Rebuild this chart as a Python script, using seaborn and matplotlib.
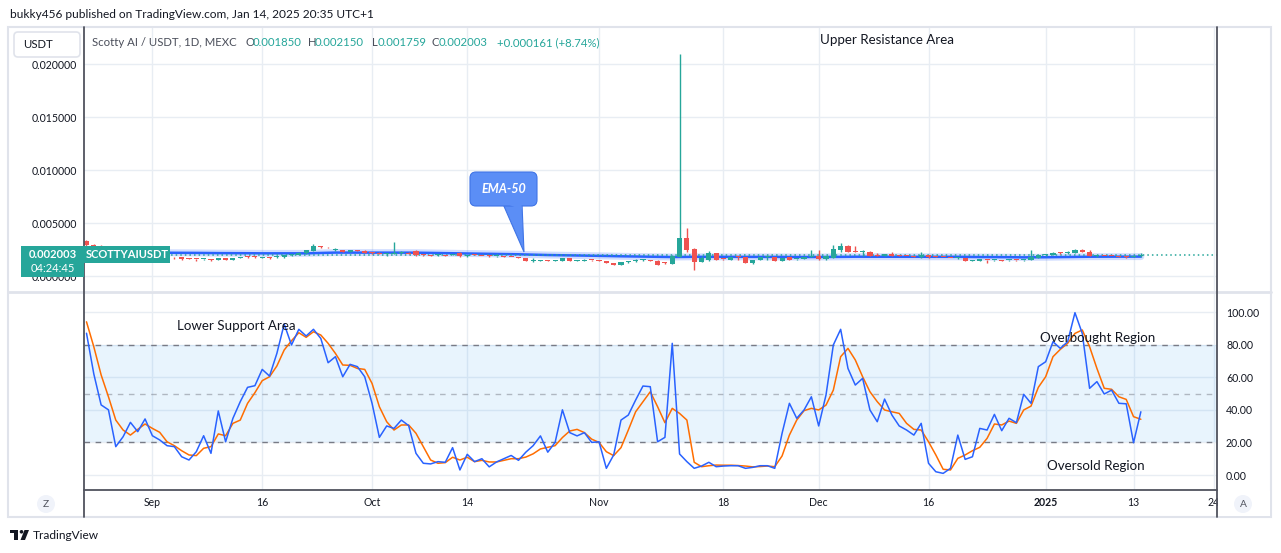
import numpy as np
import pandas as pd
import matplotlib
matplotlib.use("Agg")
import matplotlib.pyplot as plt
import seaborn as sns
from matplotlib.patches import FancyBboxPatch, Polygon, Rectangle, Circle
from matplotlib.transforms import Affine2D
from matplotlib.lines import Line2D

# ---------------- data ----------------
open_ = [0.0033,0.0029,0.00283,0.0026,0.0024,0.0021,0.0020,0.0019,0.0019,0.0018,
0.0017,0.00175,0.00177,0.00179,0.00164,0.00162,0.00159,0.00163,0.0015,0.0017,
0.0015,0.0017,0.00182,0.00181,0.00174,0.00171,0.00179,0.00176,0.00199,0.0020,
0.00214,0.0024,0.00276,0.00271,0.00249,0.00242,0.00226,0.00241,0.0024,0.00221,
0.0022,0.00209,0.0021,0.00219,0.0022,0.00233,0.00196,0.00191,0.00199,0.00191,
0.00199,0.00217,0.00186,0.00201,0.00191,0.00194,0.00186,0.00186,0.00181,0.00176,
0.0017,0.00139,0.0014,0.0015,0.00144,0.00142,0.0017,0.00144,0.00144,0.00151,
0.00146,0.0014,0.0012,0.00108,0.00129,0.00139,0.00149,0.00146,0.00145,0.00121,
0.00116,0.00182,0.0036,0.00255,0.00135,0.0015,0.00214,0.00161,0.0015,0.00181,
0.00176,0.00126,0.0015,0.00179,0.0018,0.0014,0.0018,0.00159,0.0016,0.00179,
0.00185,0.00156,0.0017,0.00245,0.00286,0.00231,0.00229,0.0023,0.00196,0.0019,
0.0021,0.00193,0.00191,0.00188,0.00176,0.0020,0.00181,0.00181,0.00171,0.00169,
0.0017,0.00144,0.00145,0.00151,0.00147,0.0015,0.00149,0.00151,0.00149,0.0015,
0.0017,0.00199,0.0020,0.00221,0.00219,0.0022,0.0025,0.0023,0.00189,0.00191,
0.00191,0.0019,0.00181,0.00179,0.00185]

close_ = [0.0029,0.00283,0.0026,0.0024,0.0021,0.0020,0.0019,0.0019,0.0018,0.0017,
0.00175,0.0017,0.00175,0.0016,0.00162,0.0016,0.00162,0.0015,0.0017,0.0015,
0.0017,0.0018,0.0018,0.00179,0.00176,0.00169,0.00181,0.0020,0.00201,0.0022,
0.00242,0.0028,0.00274,0.00269,0.00251,0.00226,0.00242,0.00239,0.0022,0.00219,
0.00212,0.00211,0.0022,0.00221,0.0021,0.00195,0.00194,0.00189,0.00201,0.00189,
0.00201,0.00186,0.0020,0.00199,0.00189,0.00186,0.00188,0.00184,0.00179,0.00174,
0.00139,0.00141,0.0015,0.00142,0.00146,0.0017,0.00142,0.00146,0.00146,0.00149,
0.00144,0.0012,0.00108,0.0013,0.00131,0.00141,0.00151,0.00144,0.00108,0.00119,
0.00189,0.00361,0.0025,0.00135,0.00167,0.00214,0.0015,0.00159,0.00182,0.00179,
0.00126,0.0015,0.00176,0.00181,0.0014,0.0017,0.0015,0.00161,0.0018,0.00181,
0.00156,0.0019,0.00255,0.00286,0.00228,0.00229,0.00231,0.0019,0.0019,0.0021,
0.0019,0.00188,0.00188,0.0018,0.0020,0.00176,0.00179,0.00179,0.00169,0.00171,
0.0014,0.00146,0.0016,0.00149,0.00149,0.0014,0.00151,0.00149,0.00151,0.0018,
0.0020,0.00201,0.0022,0.00219,0.00221,0.0025,0.0023,0.0019,0.00191,0.00189,
0.00189,0.0018,0.00179,0.00181,0.002003]

high_ = [0.00335,0.0030,0.0029,0.0027,0.0025,0.0022,0.0021,0.0020,0.0020,0.0019,
0.0018,0.0018,0.0018,0.0018,0.00168,0.00165,0.00165,0.00165,0.00172,0.00172,
0.00172,0.00182,0.0019,0.0019,0.0018,0.00175,0.0019,0.00202,0.0021,0.00222,
0.00245,0.0030,0.0028,0.00275,0.0026,0.00245,0.00245,0.00243,0.00245,0.0023,
0.00225,0.00215,0.0032,0.0024,0.00222,0.0025,0.002,0.00195,0.0021,0.00195,
0.0021,0.00225,0.00202,0.00203,0.00193,0.00196,0.0019,0.0019,0.00183,0.0018,
0.00172,0.0017,0.00152,0.00152,0.0015,0.00172,0.00172,0.0015,0.0016,0.00155,
0.0015,0.00142,0.00122,0.00132,0.0014,0.0016,0.0016,0.00148,0.00147,0.0013,
0.0020,0.0209,0.00456,0.0026,0.0019,0.00233,0.00216,0.00165,0.00184,0.0019,
0.00178,0.00152,0.00178,0.0019,0.00182,0.00172,0.00182,0.00165,0.00182,0.0025,
0.0025,0.00192,0.0029,0.0031,0.00288,0.0028,0.00245,0.00232,0.0022,0.00212,
0.0023,0.00195,0.00193,0.0019,0.0023,0.00202,0.00185,0.00183,0.00173,0.00175,
0.00172,0.0015,0.00162,0.00153,0.00152,0.00152,0.00155,0.00155,0.00155,0.0025,
0.00202,0.0021,0.00222,0.0023,0.0024,0.00252,0.00252,0.00245,0.0020,0.00193,
0.00193,0.00192,0.00185,0.00185,0.00215]

low_ = [0.0028,0.0027,0.0025,0.0023,0.0020,0.0019,0.0018,0.0018,0.0017,0.0016,
0.0016,0.0016,0.0016,0.00155,0.0016,0.00145,0.00155,0.00145,0.00148,0.00148,
0.00148,0.00168,0.0017,0.0017,0.0017,0.0016,0.0017,0.00174,0.0019,0.00198,
0.0021,0.00238,0.0026,0.0026,0.0024,0.00224,0.00224,0.00237,0.00218,0.0021,
0.0021,0.0019,0.00205,0.0021,0.00208,0.0019,0.0019,0.00185,0.0019,0.00185,
0.00195,0.00184,0.00184,0.00197,0.00187,0.00184,0.0018,0.0018,0.00177,0.0017,
0.00137,0.00135,0.00138,0.0014,0.0014,0.0014,0.0014,0.0014,0.0014,0.00145,
0.0014,0.00118,0.00106,0.00106,0.0012,0.0013,0.0014,0.00142,0.00106,0.0011,
0.00112,0.0018,0.0023,0.00057,0.0013,0.00145,0.00148,0.00155,0.00148,0.0015,
0.00124,0.0011,0.00148,0.0015,0.00138,0.00138,0.00148,0.00155,0.00158,0.00175,
0.00154,0.00154,0.00168,0.0023,0.00226,0.00225,0.0019,0.00188,0.00188,0.00188,
0.00188,0.00185,0.00186,0.00178,0.00174,0.00174,0.00175,0.00177,0.00167,0.0016,
0.00138,0.0014,0.00143,0.0012,0.00145,0.00138,0.00145,0.00145,0.00145,0.00148,
0.00168,0.0019,0.00198,0.0021,0.0021,0.00218,0.00228,0.00188,0.0018,0.00187,
0.00187,0.00178,0.0017,0.00175,0.001759]

ema50 = [0.00225,0.00225,0.00224,0.00224,0.00223,0.00223,0.00222,0.00222,0.00221,0.00221,
0.0022,0.0022,0.00219,0.00219,0.00218,0.00218,0.00217,0.00217,0.00216,0.00216,
0.00215,0.00215,0.00215,0.00214,0.00214,0.00214,0.00213,0.00213,0.00213,0.00213,
0.00214,0.00216,0.00218,0.0022,0.00221,0.00221,0.00222,0.00222,0.00222,0.00222,
0.00222,0.00221,0.00221,0.00221,0.00221,0.0022,0.00219,0.00218,0.00217,0.00216,
0.00215,0.00214,0.00213,0.00212,0.00211,0.0021,0.00209,0.00208,0.00206,0.00205,
0.00203,0.00201,0.002,0.00198,0.00197,0.00196,0.00194,0.00193,0.00192,0.00191,
0.0019,0.00189,0.00187,0.00186,0.00185,0.00184,0.00183,0.00182,0.00181,0.0018,
0.00179,0.0018,0.00181,0.00181,0.00181,0.00181,0.00181,0.00181,0.00181,0.00181,
0.0018,0.0018,0.0018,0.0018,0.0018,0.0018,0.00179,0.00179,0.00179,0.00179,
0.00179,0.00179,0.0018,0.00181,0.00182,0.00182,0.00182,0.00182,0.00182,0.00182,
0.00182,0.00182,0.00182,0.00182,0.00182,0.00182,0.00182,0.00182,0.00181,0.00181,
0.0018,0.0018,0.00179,0.00179,0.00178,0.00178,0.00177,0.00177,0.00176,0.00176,
0.00177,0.00177,0.00178,0.00179,0.0018,0.00181,0.00182,0.00182,0.00182,0.00182,
0.00182,0.00182,0.00182,0.00182,0.00183]

stoch_k = [87,62,43,40,17.4,23.5,32.3,26.6,34.4,24.1,
21.5,18,17.4,11.2,9.2,14.3,24.1,13.3,39.3,20.4,
34.8,45,53.8,54.8,64.8,60.7,74.6,92.6,79.8,89.4,
85.3,89.4,83.8,68.9,72.6,60.3,67.9,66.5,60.3,44,
23.1,30.1,28.6,33.7,30.3,13.3,7.2,6.8,8.2,7.8,
16.8,3.1,12.7,8.2,10,5,8,10,12,9,
14,18,24,14,20,40,26,24,26,20,
20.4,4.1,12.3,33.7,36.8,46,54.6,54.2,20.4,23.1,
80.8,12.9,8.2,4.1,5.5,7.8,5.1,5.5,5.7,5.7,
4.1,4.7,5.7,5.7,4.1,25.6,44,34.8,39.9,48,
30.1,49.1,79.8,89.4,65.4,55.2,59.3,39.9,32.7,46.6,
36.8,30.1,27.6,24.5,31.7,7.2,2.0,1.0,4.1,24.5,
9.6,11.2,28.6,27.6,37.2,27.2,34.8,32.1,49.5,44,
66.5,69.5,81.8,77.7,81.8,99.6,86.9,53.2,57.3,49.7,
52.1,44,43.7,19.8,38.8]

stoch_d = [94,78.7,61.4,48,33.7,27.6,24.5,28,31.3,28.6,
26.2,20.4,18,14.9,12.3,11.9,16.4,17.4,25.2,24.1,
31.7,33.7,44,50.5,57.9,60.3,66.9,76.7,82.4,87.3,
84.5,87.9,85.9,80.8,74.6,67.5,67.3,65.4,64.8,56.2,
41.9,32.7,27.6,30.7,30.7,25.6,17.4,9.2,7.2,7.6,
10.9,9.2,10.9,8.2,9,8,8,9,10,10,
11,13,16,17,18,23,27,28,26,22,
20,14.3,11.9,16.8,27.6,38.8,45,51.1,41.9,32.1,
40.9,37.8,33.7,7.8,5.1,5.7,6.1,6,6,5.8,
5.5,5,5.2,5.5,5.1,11.7,24.5,33.7,39.5,40.9,
39.9,42.9,52.1,72.6,77.7,70.6,60.3,51.1,45,39.9,
38.8,37.8,31.7,28,27.6,20.4,12.3,3.5,3.1,10.2,
12.3,14.9,17,22.5,31.3,30.7,33.1,31.7,39.9,42.3,
53.8,60.3,72.6,77.1,80.8,86.9,89,78.7,65.4,53.2,
52.6,48,46.4,35.8,34.2]

tick_days = [9, 24, 39, 52, 70, 87, 100, 115, 131, 143, 154]
tick_labels = ["Sep", "16", "Oct", "14", "Nov", "18", "Dec", "16", "2025", "13", "24"]
price_ticks = [0.0, 0.005, 0.010, 0.015, 0.020]
osc_ticks = [0, 20, 40, 60, 80, 100]
last_price = 0.002003

# ---------------- styling ----------------
W, H = 1281, 553
sns.set_theme(style="white")
plt.rcParams['font.family'] = ['Lato', 'DejaVu Sans']

GREEN = '#26a69a'
RED = '#ef5350'
GRID = '#e8edf3'
TXT = '#131722'
AXC = '#50535e'

fig = plt.figure(figsize=(W / 100, H / 100), dpi=100)
fig.patch.set_facecolor('white')
PX = Affine2D().scale(1.0 / W, -1.0 / H).translate(0, 1) + fig.transFigure

def fr(x0, y0, x1, y1):
    return [x0 / W, 1 - y1 / H, (x1 - x0) / W, (y1 - y0) / H]

ax1 = fig.add_axes(fr(84, 28, 1217, 291))
ax2 = fig.add_axes(fr(84, 292, 1217, 490))

days = np.arange(len(close_))
df = pd.DataFrame({"day": days, "open": open_, "high": high_, "low": low_,
                   "close": close_, "ema": ema50, "k": stoch_k, "d": stoch_d})
xlim = (-0.34, 154.4)

# ---- price pane ----
for a in (ax1, ax2):
    a.set_xlim(*xlim)
    a.set_facecolor('white')
    for s in a.spines.values():
        s.set_visible(False)
    for t in tick_days:
        a.axvline(t, color=GRID, lw=1, zorder=0)

ax1.set_ylim(-0.001415, 0.0234)
for p in price_ticks:
    ax1.axhline(p, color=GRID, lw=1, zorder=0)

sns.lineplot(data=df, x="day", y="ema", ax=ax1, color='#2962ff', lw=5, alpha=0.22,
             estimator=None, zorder=2)
sns.lineplot(data=df, x="day", y="ema", ax=ax1, color='#2962ff', lw=1.8,
             estimator=None, zorder=3)

up = df["close"] >= df["open"]
colors = np.where(up, GREEN, RED)
body_lo = np.minimum(df["open"], df["close"])
body_h = np.maximum(np.abs(df["close"] - df["open"]), 0.00009)
ax1.vlines(df["day"], df["low"], df["high"], colors=colors, lw=1, zorder=4)
ax1.bar(df["day"], body_h, bottom=body_lo, width=0.7, color=colors, zorder=5, linewidth=0)
ax1.axhline(last_price, color=GREEN, lw=1.1, ls=(0, (1, 2)), zorder=3)

ax1.set_xticks([])
ax1.set_yticks(price_ticks)
ax1.set_yticklabels([f"{p:.6f}" for p in price_ticks])
ax1.tick_params(axis='y', left=False, length=0, labelleft=True, pad=5, labelsize=7.6,
                labelcolor=TXT)
ax1.set_xlabel("")
ax1.set_ylabel("")

# ---- oscillator pane ----
ax2.set_ylim(-9.2, 112.3)
for v in osc_ticks:
    ax2.axhline(v, color=GRID, lw=1, zorder=0)
ax2.axhspan(20, 80, color='#2196f3', alpha=0.1, lw=0, zorder=1)
ax2.axhline(80, color='#787b86', lw=1, ls=(0, (4, 4)), zorder=2)
ax2.axhline(20, color='#787b86', lw=1, ls=(0, (4, 4)), zorder=2)
ax2.axhline(50, color='#787b86', lw=1, ls=(0, (4, 4)), alpha=0.5, zorder=2)
sns.lineplot(data=df, x="day", y="k", ax=ax2, color='#2962ff', lw=1.1, estimator=None, zorder=4)
sns.lineplot(data=df, x="day", y="d", ax=ax2, color='#ff6d00', lw=1.1, estimator=None, zorder=3)
ax2.yaxis.tick_right()
ax2.set_yticks(osc_ticks)
ax2.set_yticklabels([f"{v:.2f}" for v in osc_ticks])
ax2.tick_params(axis='y', right=False, length=0, labelright=True, left=False, labelleft=False,
                pad=6.5, labelsize=7.6, labelcolor=TXT)
ax2.set_xticks(tick_days)
ax2.set_xticklabels(tick_labels)
ax2.tick_params(axis='x', bottom=False, length=0, pad=5, labelsize=7.6, labelcolor=TXT)
for lab in ax2.get_xticklabels():
    if lab.get_text() == "2025":
        lab.set_fontweight('bold')
ax2.set_xlabel("")
ax2.set_ylabel("")

# ---------------- frame lines ----------------
def fline(xs, ys, color, lw, z=10):
    fig.add_artist(Line2D(xs, ys, transform=PX, color=color, lw=lw, zorder=z))

fig.add_artist(Rectangle((8, 27), 1263, 490, transform=PX, fill=False,
                         edgecolor='#e0e3eb', lw=1.5, zorder=9))
fline([8, 1271], [291.5, 291.5], '#e0e3eb', 2)
# cover for clipped tick label at right
fig.add_artist(Rectangle((1218, 491), 52, 25, transform=PX, facecolor='white',
                         edgecolor='none', zorder=11))
fline([84, 84], [27, 517], AXC, 1.3, 12)
fline([1217, 1217], [27, 517], AXC, 1.3, 12)
fline([84, 1217], [490, 490], AXC, 1.3, 12)

# ---------------- header & legend ----------------
fig.text(10, 14, "bukky456 published on TradingView.com, Jan 14, 2025 20:35 UTC+1",
         transform=PX, fontsize=8.6, color=TXT, va='center', ha='left')

fig.add_artist(FancyBboxPatch((14, 32), 66, 25, boxstyle="round,pad=0,rounding_size=4",
                              transform=PX, facecolor='white', edgecolor='#e0e3eb',
                              lw=1.2, zorder=12))
fig.text(23, 44.5, "USDT", transform=PX, fontsize=8.2, color=TXT, va='center', ha='left', zorder=13)

GREY = '#4a4e5a'
legend_parts = [("Scotty AI / USDT, 1D, MEXC", 92, GREY),
                ("O", 245, GREY), ("0.001850", 253, GREEN),
                ("H", 308, GREY), ("0.002150", 315, GREEN),
                ("L", 372, GREY), ("0.001759", 378, GREEN),
                ("C", 432, GREY), ("0.002003", 439, GREEN),
                ("+0.000161 (+8.74%)", 497, GREEN)]
for s, x, c in legend_parts:
    fig.text(x, 42.5, s, transform=PX, fontsize=8.2, color=c, va='center', ha='left', zorder=13)

# ---------------- price labels on axis ----------------
fig.add_artist(Rectangle((21, 246), 63, 31, transform=PX, facecolor=GREEN,
                         edgecolor='none', zorder=13))
fig.text(52.5, 254.5, "0.002003", transform=PX, fontsize=8, color='white',
         fontweight='bold', va='center', ha='center', zorder=14)
fig.text(52.5, 268.5, "04:24:45", transform=PX, fontsize=8, color='white',
         va='center', ha='center', zorder=14)
fig.add_artist(Rectangle((84, 246), 86, 17, transform=PX, facecolor=GREEN,
                         edgecolor='none', zorder=13))
fig.text(127, 254.5, "SCOTTYAIUSDT", transform=PX, fontsize=8, color='white',
         fontweight='bold', va='center', ha='center', zorder=14)

# ---------------- annotations ----------------
note_kw = dict(transform=PX, fontsize=9.6, color=TXT, va='center', ha='left', zorder=14)
fig.text(820, 39.5, "Upper Resistance Area", **note_kw)
fig.text(177, 325.5, "Lower Support Area", **note_kw)
fig.text(1040, 337.5, "Overbought Region", **note_kw)
fig.text(1047, 466.5, "Oversold Region", **note_kw)

# EMA-50 callout
CAL = '#5b8ef6'
CAL_E = '#3f74e6'
fig.add_artist(Polygon([(503, 204), (522, 204), (524, 252)], closed=True, transform=PX,
                       facecolor=CAL, edgecolor=CAL_E, lw=0.8, zorder=14))
fig.add_artist(FancyBboxPatch((470, 172), 67, 34, boxstyle="round,pad=0,rounding_size=6",
                              transform=PX, facecolor=CAL, edgecolor=CAL_E, lw=0.8, zorder=15))
fig.add_artist(Polygon([(504, 203), (521, 203), (522.5, 210)], closed=True, transform=PX,
                       facecolor=CAL, edgecolor='none', zorder=16))
fig.text(503.5, 189, "EMA-50", transform=PX, fontsize=9, color='white', fontweight='bold',
         style='italic', va='center', ha='center', zorder=17)

# ---------------- bottom bits ----------------
for cx, letter in ((46, "Z"), (1243, "A")):
    fig.add_artist(Circle((cx, 504), 9, transform=PX, facecolor='#f0f3fa',
                          edgecolor='none', zorder=12))
    fig.text(cx, 504.5, letter, transform=PX, fontsize=7.4, color='#50535e',
             va='center', ha='center', zorder=13)

# TradingView logo (simplified)
fig.add_artist(Rectangle((10, 530), 8, 3, transform=PX, facecolor=TXT, edgecolor='none', zorder=12))
fig.add_artist(Rectangle((14, 530), 4, 10, transform=PX, facecolor=TXT, edgecolor='none', zorder=12))
fig.add_artist(Circle((21.5, 531.8), 1.8, transform=PX, facecolor=TXT, edgecolor='none', zorder=12))
fig.add_artist(Polygon([(24.5, 530), (29, 530), (25, 540), (20.5, 540)], closed=True,
                       transform=PX, facecolor=TXT, edgecolor='none', zorder=12))
fig.text(33, 535.5, "TradingView", transform=PX, fontsize=8.6, color=TXT,
         va='center', ha='left', zorder=12)

fig.savefig("out.png", dpi=100, facecolor='white')
